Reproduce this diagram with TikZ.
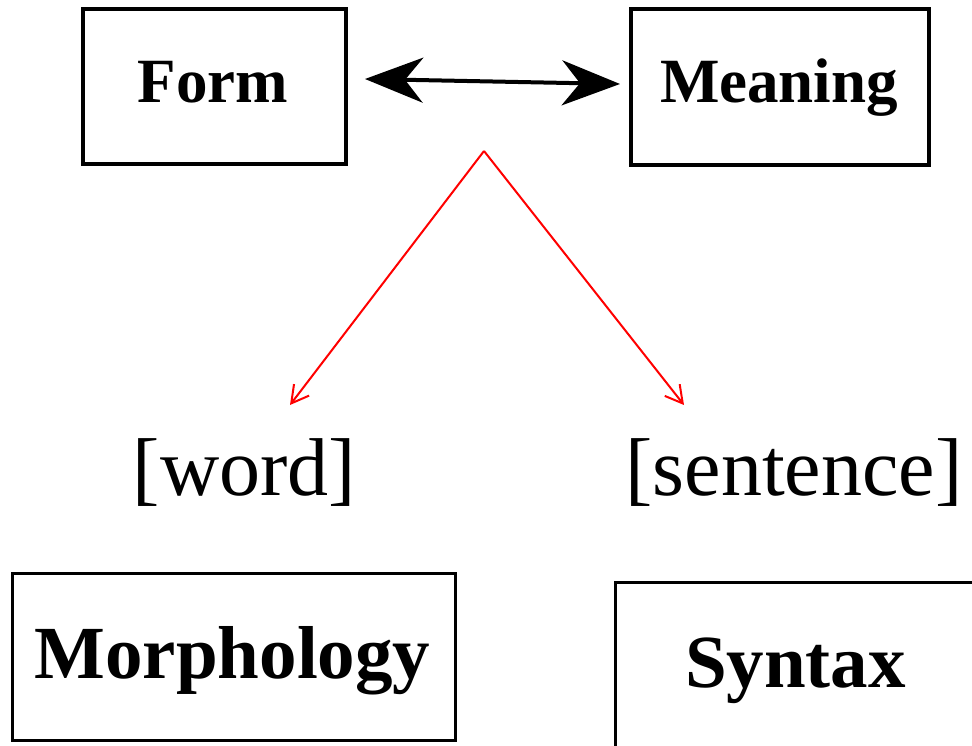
\documentclass[tikz,border=0pt]{standalone}
\usepackage{fontspec}
\setmainfont{Liberation Serif}
\usetikzlibrary{arrows.meta,calc}
\begin{document}
\begin{tikzpicture}[x=1pt,y=-1pt,
  box/.style={draw=black, rectangle, inner sep=0pt, outer sep=0pt},
  topbox/.style={box, line width=4pt},
  botbox/.style={box, line width=3pt},
  toplabel/.style={anchor=base, inner sep=0pt, font=\fontsize{63}{70}\selectfont\bfseries},
  botlabel/.style={anchor=base, inner sep=0pt, font=\fontsize{75}{84}\selectfont\bfseries},
  unitlabel/.style={anchor=base, inner sep=0pt, font=\fontsize{82}{92}\selectfont},
  redarrow/.style={draw=red, line width=2pt, -{Straight Barb[length=17pt,width=19pt]}},
  dblarrow/.style={line width=4pt, {Stealth[length=58pt,width=45pt,inset=18pt]}-{Stealth[length=58pt,width=45pt,inset=18pt]}}
]
\useasboundingbox (0,0) rectangle (972,746);
\clip (0,0) rectangle (972,746);
\fill[white] (0,0) rectangle (972,746);

% boxes
\node[topbox, minimum width=263pt, minimum height=155pt] (formbox) at (214.5,86.5) {};
\node[topbox, minimum width=298pt, minimum height=156pt] (meaningbox) at (780,87) {};
\node[botbox, minimum width=443pt, minimum height=167pt] (morphbox) at (233.5,656.5) {};
\node[botbox, minimum width=380pt, minimum height=188pt] (syntaxbox) at (805,676) {};

% labels
\node[toplabel] (form) at (213,103) {Form};
\node[toplabel] (meaning) at (779,103) {Meaning};
\node[unitlabel] (word) at (244.5,495) {[word]};
\node[unitlabel] (sentence) at (794,495) {[sentence]};
\node[botlabel] (morph) at (232.5,678) {Morphology};
\node[botlabel] (syntax) at (795.5,687) {Syntax};

% double arrow
\draw[dblarrow] ($(formbox.east)+(19,-7.5)$) -- ($(meaningbox.west)+(-11,-3)$);

% red arrows
\coordinate (apex) at (484,151);
\coordinate (wtip) at (290,405);
\coordinate (stip) at (684,405);
\draw[redarrow] (apex) -- (wtip);
\draw[redarrow] (apex) -- (stip);
\end{tikzpicture}
\end{document}
